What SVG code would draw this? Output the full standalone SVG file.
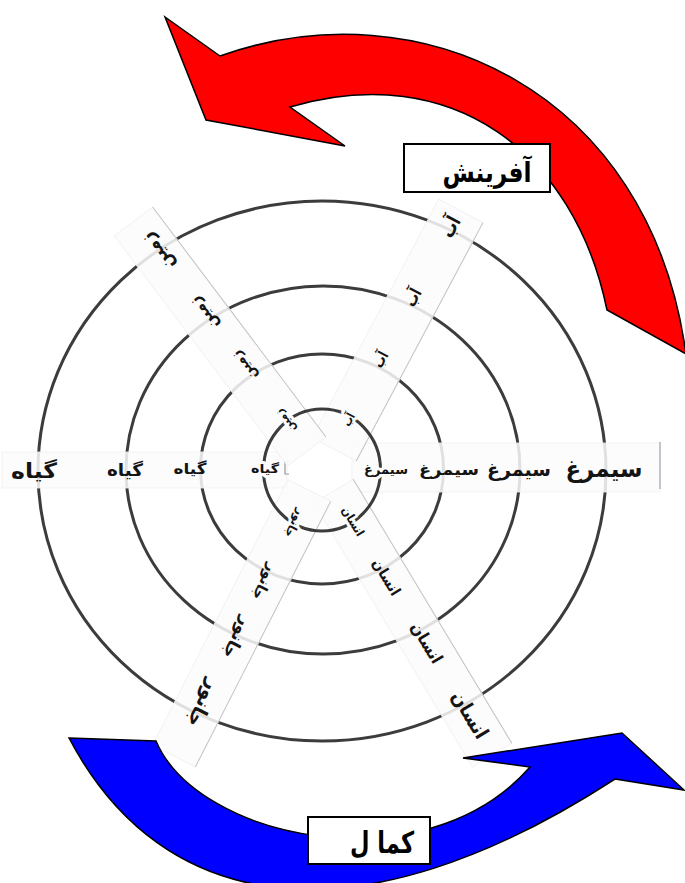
<svg xmlns="http://www.w3.org/2000/svg" width="685" height="883" viewBox="0 0 685 883">
<defs>
<style>
.ring{fill:none;stroke:#3c3c3c;stroke-width:3}
.strip{fill:#fcfcfc;fill-opacity:0.86;stroke:#efefef;stroke-width:0.8}
.edge{stroke:#c4c4c4;stroke-width:1;fill:none}
.w{font-family:"DejaVu Sans","Noto Sans",sans-serif;font-weight:bold;fill:#141414;text-anchor:middle}
.halo{stroke:#fcfcfc;stroke-width:6;paint-order:stroke;stroke-linejoin:round}
.arrow{stroke:#000;stroke-width:1.5;stroke-linejoin:miter}
.box{fill:#fff;stroke:#000;stroke-width:2}
.lbl{font-family:"DejaVu Sans","Noto Sans",sans-serif;font-weight:bold;fill:#000;text-anchor:middle}
</style>
</defs>
<rect width="685" height="883" fill="#fff"/>
<g id="rings">
<ellipse class="ring" cx="322" cy="469" rx="121.5" ry="115"/>
<ellipse class="ring" cx="323" cy="470" rx="197" ry="184"/>
<ellipse class="ring" cx="322" cy="471" rx="284" ry="270"/>
</g>
<g id="strip-simorgh">
<rect class="strip" x="352" y="443" width="308" height="49"/>
<line x1="660" y1="442" x2="660" y2="489" stroke="#9aa4ae" stroke-width="1.2"/>
<text class="w" x="449" y="475" font-size="16" textLength="60" lengthAdjust="spacingAndGlyphs">سیمرغ</text>
<text class="w" x="519" y="476" font-size="19" textLength="64" lengthAdjust="spacingAndGlyphs">سیمرغ</text>
<text class="w" x="604" y="477" font-size="24" textLength="77" lengthAdjust="spacingAndGlyphs">سیمرغ</text>
</g>
<g id="strip-giah">
<rect class="strip" x="2" y="452" width="285" height="36"/>
<path d="M289,462 L285,462 L285,474 L289,474" fill="none" stroke="#999" stroke-width="1.2"/>
<text class="w" x="190" y="474" font-size="15" textLength="33" lengthAdjust="spacingAndGlyphs">گیاه</text>
<text class="w" x="125" y="476" font-size="17" textLength="36" lengthAdjust="spacingAndGlyphs">گیاه</text>
<text class="w" x="34" y="478" font-size="21" textLength="46" lengthAdjust="spacingAndGlyphs">گیاه</text>
</g>
<g id="strip-ab" transform="translate(322,470) rotate(-62)">
<rect class="strip" x="24" y="-24" width="270" height="50"/>
<line class="edge" x1="24" y1="26" x2="294" y2="26"/>
<text class="w" x="125" y="5" font-size="15" textLength="16" lengthAdjust="spacingAndGlyphs">آب</text>
<text class="w" x="195" y="5" font-size="17" textLength="18" lengthAdjust="spacingAndGlyphs">آب</text>
<text class="w" x="275" y="6" font-size="20" textLength="21" lengthAdjust="spacingAndGlyphs">آب</text>
</g>
<g id="strip-zamin" transform="translate(322,470) rotate(-127)">
<rect class="strip" x="24" y="-25" width="288" height="48"/>
<line class="edge" x1="24" y1="23" x2="312" y2="23"/>
<text class="w" x="130" y="5" font-size="15" textLength="33" lengthAdjust="spacingAndGlyphs">زمین</text>
<text class="w" x="196" y="5" font-size="17" textLength="37" lengthAdjust="spacingAndGlyphs">زمین</text>
<text class="w" x="273" y="6" font-size="20" textLength="42" lengthAdjust="spacingAndGlyphs">زمین</text>
</g>
<g id="strip-ensan" transform="translate(322,470) rotate(59)">
<rect class="strip" x="24" y="-22" width="308" height="46"/>
<line class="edge" x1="24" y1="-22" x2="332" y2="-22"/>
<text class="w" x="125" y="5" font-size="15" textLength="40" lengthAdjust="spacingAndGlyphs">انسان</text>
<text class="w" x="202" y="5" font-size="17" textLength="45" lengthAdjust="spacingAndGlyphs">انسان</text>
<text class="w" x="286" y="6" font-size="20" textLength="52" lengthAdjust="spacingAndGlyphs">انسان</text>
</g>
<g id="strip-janevar" transform="translate(322,470) rotate(117)">
<rect class="strip" x="24" y="-22" width="298" height="48"/>
<line class="edge" x1="24" y1="-22" x2="322" y2="-22"/>
<text class="w" x="126" y="5" font-size="15" textLength="38" lengthAdjust="spacingAndGlyphs">جانور</text>
<text class="w" x="188" y="5" font-size="17" textLength="44" lengthAdjust="spacingAndGlyphs">جانور</text>
<text class="w" x="262" y="6" font-size="20" textLength="50" lengthAdjust="spacingAndGlyphs">جانور</text>
</g>
<g id="inner-ring">
<ellipse class="ring" cx="322" cy="470" rx="58.5" ry="61"/>
<text class="w halo" x="386" y="474" font-size="13" textLength="44" lengthAdjust="spacingAndGlyphs">سیمرغ</text>
<text class="w halo" x="265" y="473" font-size="12" textLength="28" lengthAdjust="spacingAndGlyphs">گیاه</text>
<text class="w halo" transform="translate(322,470) rotate(-62)" x="57" y="4" font-size="12" textLength="13" lengthAdjust="spacingAndGlyphs">آب</text>
<text class="w halo" transform="translate(322,470) rotate(-127)" x="61" y="4" font-size="12" textLength="26" lengthAdjust="spacingAndGlyphs">زمین</text>
<text class="w halo" transform="translate(322,470) rotate(59)" x="60" y="4" font-size="12" textLength="32" lengthAdjust="spacingAndGlyphs">انسان</text>
<text class="w halo" transform="translate(322,470) rotate(117)" x="60" y="4" font-size="12" textLength="30" lengthAdjust="spacingAndGlyphs">جانور</text>
</g>
<g id="connectors">
<path id="arrow-afarinesh" class="arrow" fill="#ff0000" d="M165,17 L206,120 L345,146 L290,107 C452,59.5 574.5,152.5 607,310 L686,354 C650,90 420,-15 220,56 Z"/>
<path id="arrow-kamal" class="arrow" fill="#0000ff" d="M69,738 L156,741 C198,840 425,887 530,767 L463,758 L622,733 L684,790 L615,779 C356,947 162,915 69,738 Z"/>
</g>
<g id="node-afarinesh">
<rect class="box" x="404" y="144" width="146" height="48"/>
<text class="lbl" x="487" y="182" font-size="28" textLength="89" lengthAdjust="spacingAndGlyphs">آفرینش</text>
</g>
<g id="node-kamal">
<rect class="box" x="308" y="817" width="122" height="47"/>
<text class="lbl" x="382" y="853" font-size="30" textLength="64" lengthAdjust="spacingAndGlyphs">کما ل</text>
</g>
</svg>
